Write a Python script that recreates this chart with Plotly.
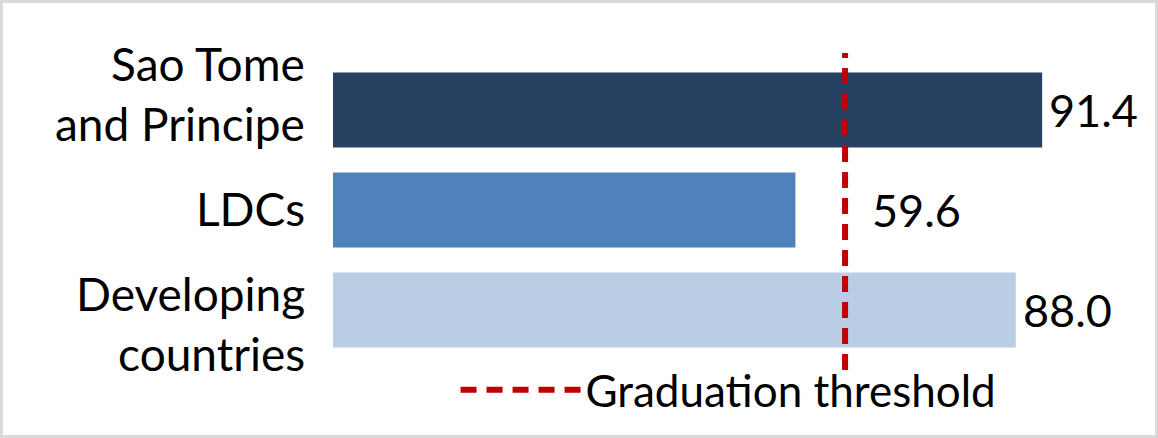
import plotly.graph_objects as go

categories = ["Sao Tome<br>and Principe", "LDCs", "Developing<br>countries"]
values = [91.4, 59.6, 88.0]
value_labels = ["91.4", "59.6", "88.0"]
bar_colors = ["#264061", "#4F81BD", "#B9CDE5"]
threshold = 66
threshold_name = "Graduation threshold"

FONT = "Lato"

fig = go.Figure()
fig.add_trace(go.Bar(
    x=values,
    y=categories,
    orientation="h",
    width=0.75,
    marker=dict(color=bar_colors, line=dict(width=0)),
    showlegend=False,
    hoverinfo="skip",
))

# category labels as annotations so each can be nudged like the original
cat_shift = [17, 2, -13]
for cat, dy in zip(categories, cat_shift):
    fig.add_annotation(
        xref="paper", x=0, y=cat, text=cat, showarrow=False,
        xanchor="right", yanchor="middle", align="right",
        xshift=-26, yshift=dy,
        font=dict(size=46, color="black", family=FONT),
    )

# value labels; the LDC one sits right of the threshold line
label_shift = [5, 75, 5]
for cat, val, lab, dx in zip(categories, values, value_labels, label_shift):
    fig.add_annotation(
        x=val, y=cat, text=lab, showarrow=False,
        xanchor="left", yanchor="middle", xshift=dx,
        font=dict(size=45, color="black", family=FONT),
    )

fig.add_shape(
    type="line", xref="x", yref="paper",
    x0=threshold, x1=threshold, y0=-0.033, y1=1.023,
    line=dict(color="#C00000", width=6, dash="16px,10px"),
    showlegend=True, name=threshold_name,
)

# light grey frame around the chart
fig.add_shape(
    type="rect", xref="paper", yref="paper",
    x0=(1.5 - 333) / 817, x1=(1156.5 - 333) / 817,
    y0=(360 - 436.5) / 300, y1=(360 - 1.5) / 300,
    line=dict(color="#D9D9D9", width=3), fillcolor="rgba(0,0,0,0)",
    layer="below",
)

fig.update_layout(
    width=1158, height=438,
    margin=dict(l=333, r=8, t=60, b=78),
    paper_bgcolor="white", plot_bgcolor="white",
    font=dict(family=FONT, size=46, color="black"),
    bargap=0.25,
    xaxis=dict(range=[0, 105.3], visible=False, fixedrange=True),
    yaxis=dict(autorange="reversed", showgrid=False, showline=False,
               ticks="", showticklabels=False, fixedrange=True),
    legend=dict(orientation="h", x=0.15, y=0.018, xanchor="left", yanchor="top",
                itemwidth=120, font=dict(size=44), bgcolor="rgba(0,0,0,0)"),
)

# page has a default 8px body margin; drop it so the figure sits at 0,0
fig.write_html("out.html", config={"displayModeBar": False},
               post_script="document.body.style.margin='0';")
